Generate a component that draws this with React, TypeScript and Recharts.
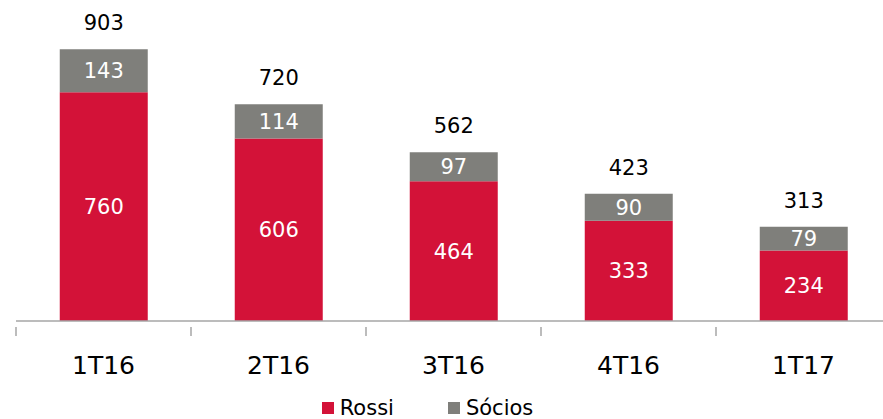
import { Bar, BarChart, LabelList, Legend, XAxis, YAxis } from 'recharts';

const quarters = ['1T16', '2T16', '3T16', '4T16', '1T17'];
const rossi = [760, 606, 464, 333, 234];
const socios = [143, 114, 97, 90, 79];
const totals = [903, 720, 562, 423, 313];

const RED = '#D31238';
const GRAY = '#7F7F7B';
const FONT = '"DejaVu Sans", Verdana, sans-serif';

const data = quarters.map((q, i) => ({
  quarter: q,
  rossi: rossi[i],
  socios: socios[i],
  total: totals[i],
}));

const QuarterTick = (props: any) => {
  const { x, y, payload } = props;
  const half = 87.5;
  return (
    <g>
      <line x1={x - half} y1={y - 2} x2={x - half} y2={y + 7} stroke="#A6A6A6" strokeWidth={1.5} />
      <text x={x} y={y + 45} textAnchor="middle" fontSize={25} fill="#000" fontFamily={FONT}>
        {payload.value}
      </text>
    </g>
  );
};

const LegendContent = () => (
  <div
    style={{
      display: 'flex',
      justifyContent: 'center',
      gap: 54,
      fontFamily: FONT,
      fontSize: 21,
      lineHeight: '20px',
      color: '#000',
      paddingRight: 28,
    }}
  >
    <span style={{ display: 'flex', alignItems: 'center', gap: 6 }}>
      <span style={{ width: 12, height: 12, background: RED, display: 'inline-block' }} />
      Rossi
    </span>
    <span style={{ display: 'flex', alignItems: 'center', gap: 6 }}>
      <span style={{ width: 12, height: 12, background: GRAY, display: 'inline-block' }} />
      Sócios
    </span>
  </div>
);

export default function App() {
  return (
    <div style={{ position: 'absolute', left: 0, top: 0, width: 883, height: 419, overflow: 'hidden', background: '#fff' }}>
      <BarChart
        width={900}
        height={419}
        data={data}
        barCategoryGap="25%"
        margin={{ top: 20, right: 9, left: 16, bottom: 0 }}
      >
        <XAxis
          dataKey="quarter"
          tick={<QuarterTick />}
          tickLine={false}
          axisLine={{ stroke: '#A6A6A6', strokeWidth: 1.5 }}
          height={72}
          interval={0}
        />
        <YAxis hide domain={[0, 1000]} />
        <Legend
          content={<LegendContent />}
          wrapperStyle={{ position: 'absolute', top: 398, left: 0, width: 883, height: 26 }}
        />
        <Bar dataKey="rossi" stackId="a" fill={RED} isAnimationActive={false}>
          <LabelList dataKey="rossi" position="center" fill="#fff" fontSize={21} fontFamily={FONT} />
        </Bar>
        <Bar dataKey="socios" stackId="a" fill={GRAY} isAnimationActive={false}>
          <LabelList dataKey="socios" position="center" fill="#fff" fontSize={21} fontFamily={FONT} />
          <LabelList dataKey="total" position="top" offset={19} fill="#000" fontSize={21} fontFamily={FONT} />
        </Bar>
      </BarChart>
    </div>
  );
}
